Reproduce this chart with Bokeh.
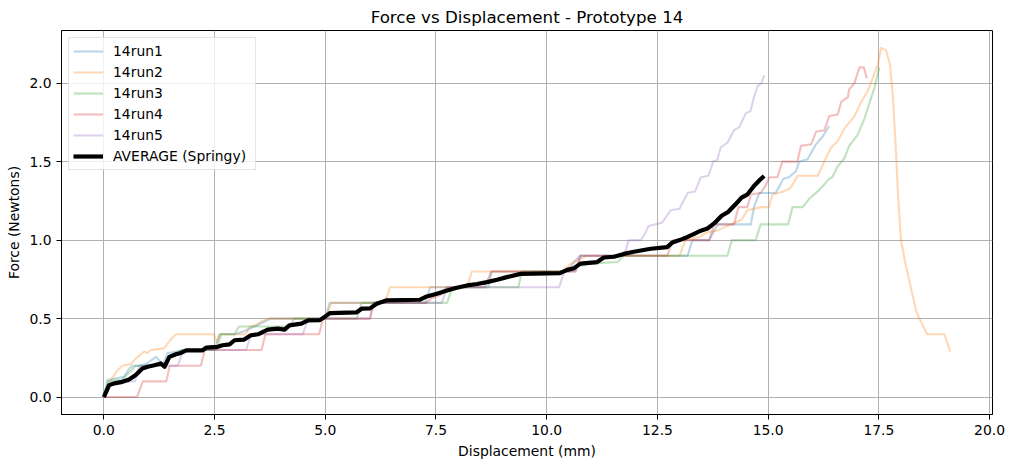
from bokeh.plotting import figure
from bokeh.models import Range1d, NumeralTickFormatter
from bokeh.embed import file_html
from bokeh.resources import INLINE

# ---- data (x: displacement mm, y: force N) ----
RUN1 = [(0, 0), (0.08, 0.108), (0.46, 0.13), (0.57, 0.18), (0.65, 0.2), (0.8, 0.2), (0.95, 0.21),
        (1.18, 0.256), (1.25, 0.235), (1.33, 0.2), (1.44, 0.28), (1.67, 0.29), (1.82, 0.3), (2.5, 0.3),
        (2.61, 0.4), (2.95, 0.4), (3.17, 0.42), (3.4, 0.45), (3.7, 0.49), (3.78, 0.5), (5.0, 0.5),
        (5.1, 0.6), (7.26, 0.6), (7.37, 0.7), (8.68, 0.7), (8.76, 0.8), (10.5, 0.8), (10.61, 0.86),
        (10.76, 0.9), (13.18, 0.9), (13.29, 1.0), (13.67, 1.0), (13.86, 1.1), (14.5, 1.1), (14.61, 1.1),
        (14.68, 1.21), (14.8, 1.3), (15.17, 1.3), (15.27, 1.35), (15.34, 1.39), (15.47, 1.40),
        (15.63, 1.44), (15.7, 1.5), (15.89, 1.515), (16.08, 1.61), (16.23, 1.66), (16.38, 1.727)]

RUN2 = [(0, 0), (0.16, 0.11), (0.31, 0.17), (0.42, 0.2), (0.61, 0.21), (0.72, 0.245), (0.91, 0.29),
        (0.98, 0.28), (1.06, 0.30), (1.36, 0.31), (1.44, 0.34), (1.52, 0.37), (1.63, 0.40), (2.48, 0.40),
        (2.55, 0.35), (2.62, 0.40), (3.2, 0.40), (3.3, 0.45), (3.45, 0.46), (3.55, 0.48), (3.7, 0.5),
        (5.0, 0.5), (5.14, 0.6), (6.35, 0.6), (6.46, 0.7), (8.2, 0.7), (8.31, 0.8), (10.35, 0.8),
        (10.55, 0.85), (10.9, 0.9), (13.0, 0.9), (13.13, 1.0), (13.45, 1.02), (13.63, 1.05),
        (13.85, 1.06), (14.16, 1.1), (14.4, 1.13), (14.53, 1.19), (14.84, 1.21), (15.02, 1.21),
        (15.1, 1.29), (15.34, 1.31), (15.5, 1.33), (15.67, 1.41), (16.12, 1.41), (16.27, 1.5),
        (16.42, 1.59), (16.57, 1.63), (16.72, 1.71), (16.95, 1.79), (17.1, 1.88), (17.25, 1.95),
        (17.4, 2.06), (17.48, 2.12), (17.55, 2.224), (17.66, 2.21), (17.75, 2.12), (17.82, 1.9),
        (17.88, 1.6), (17.93, 1.3), (18.0, 1.0), (18.1, 0.85), (18.19, 0.74), (18.34, 0.55),
        (18.45, 0.48), (18.59, 0.40), (18.98, 0.40), (19.11, 0.29)]

RUN3 = [(0, 0), (0.1, 0.1), (0.4, 0.11), (0.55, 0.15), (0.72, 0.2), (1.4, 0.2), (1.5, 0.26),
        (1.6, 0.28), (1.75, 0.3), (2.55, 0.3), (2.65, 0.4), (2.95, 0.4), (3.05, 0.45), (4.2, 0.45),
        (4.3, 0.5), (5.71, 0.5), (5.82, 0.6), (7.75, 0.6), (7.87, 0.7), (9.36, 0.7), (9.44, 0.8),
        (10.5, 0.8), (10.65, 0.83), (11.0, 0.85), (11.6, 0.86), (11.74, 0.9), (14.08, 0.9),
        (14.18, 1.0), (14.72, 1.0), (14.83, 1.1), (15.45, 1.1), (15.55, 1.21), (15.78, 1.21),
        (15.95, 1.27), (16.12, 1.31), (16.38, 1.39), (16.45, 1.40), (16.57, 1.47), (16.72, 1.52),
        (16.83, 1.60), (17.02, 1.67), (17.17, 1.77), (17.4, 1.97), (17.51, 2.1)]

RUN4 = [(0, 0), (0.75, 0), (0.88, 0.1), (1.41, 0.1), (1.49, 0.2), (2.19, 0.2), (2.28, 0.3),
        (3.56, 0.3), (3.65, 0.4), (4.86, 0.4), (4.95, 0.5), (6.01, 0.5), (6.1, 0.6), (7.28, 0.6),
        (7.4, 0.63), (7.6, 0.65), (7.75, 0.7), (8.6, 0.7), (8.75, 0.8), (10.65, 0.8), (10.76, 0.9),
        (12.72, 0.9), (12.85, 1.0), (13.67, 1.0), (13.78, 1.1), (14.23, 1.1), (14.33, 1.21),
        (14.53, 1.21), (14.61, 1.29), (14.83, 1.30), (14.95, 1.35), (15.02, 1.40), (15.21, 1.40),
        (15.32, 1.5), (15.66, 1.5), (15.74, 1.6), (15.97, 1.61), (16.08, 1.69), (16.27, 1.70),
        (16.38, 1.79), (16.57, 1.8), (16.65, 1.88), (16.8, 1.91), (16.83, 1.96), (16.95, 2.0),
        (17.06, 2.1), (17.16, 2.1), (17.23, 2.03)]

RUN5 = [(0, 0), (0.1, 0.08), (0.6, 0.1), (0.7, 0.1), (0.8, 0.2), (1.67, 0.2), (1.8, 0.3),
        (3.21, 0.3), (3.33, 0.4), (4.49, 0.4), (4.62, 0.5), (6.01, 0.5), (6.08, 0.6), (7.63, 0.6),
        (7.75, 0.7), (10.28, 0.7), (10.4, 0.8), (10.65, 0.8), (10.76, 0.9), (11.75, 0.9), (11.85, 1.0),
        (12.12, 1.0), (12.2, 1.03), (12.3, 1.09), (12.6, 1.11), (12.8, 1.19), (13.0, 1.2),
        (13.18, 1.3), (13.35, 1.31), (13.48, 1.4), (13.65, 1.41), (13.76, 1.5), (13.85, 1.51),
        (13.93, 1.59), (14.08, 1.62), (14.23, 1.7), (14.35, 1.72), (14.5, 1.81), (14.6, 1.82),
        (14.68, 1.91), (14.76, 1.98), (14.85, 2.0), (14.91, 2.05)]

AVERAGE = [(0, 0), (0.12, 0.076), (0.23, 0.087), (0.42, 0.097), (0.57, 0.112), (0.72, 0.14),
           (0.87, 0.182), (0.99, 0.193), (1.14, 0.203), (1.29, 0.214), (1.37, 0.193), (1.48, 0.256),
           (1.63, 0.273), (1.74, 0.281), (1.86, 0.298), (2.23, 0.298), (2.31, 0.315), (2.57, 0.32),
           (2.68, 0.33), (2.84, 0.336), (2.95, 0.362), (3.17, 0.366), (3.32, 0.394), (3.48, 0.40),
           (3.7, 0.43), (3.93, 0.436), (4.08, 0.43), (4.19, 0.457), (4.46, 0.468), (4.61, 0.489),
           (4.88, 0.49), (5.11, 0.535), (5.71, 0.54), (5.82, 0.563), (6.01, 0.565), (6.16, 0.595),
           (6.39, 0.616), (7.14, 0.62), (7.29, 0.641), (7.52, 0.658), (7.75, 0.679), (7.97, 0.696),
           (8.2, 0.711), (8.43, 0.72), (8.65, 0.732), (8.88, 0.747), (9.1, 0.764), (9.41, 0.785),
           (10.3, 0.79), (10.46, 0.81), (10.61, 0.82), (10.76, 0.85), (11.14, 0.86), (11.29, 0.889),
           (11.52, 0.894), (11.74, 0.912), (11.97, 0.926), (12.35, 0.945), (12.72, 0.955),
           (12.84, 0.985), (13.0, 1.0), (13.18, 1.02), (13.33, 1.04), (13.48, 1.06), (13.63, 1.074),
           (13.78, 1.106), (13.95, 1.155), (14.1, 1.18), (14.27, 1.23), (14.4, 1.27), (14.53, 1.29),
           (14.68, 1.345), (14.8, 1.38), (14.91, 1.408)]

RUN_NAMES = ["14run1", "14run2", "14run3", "14run4", "14run5"]
AVG_NAME = "AVERAGE (Springy)"
X_TICKS = [0, 2.5, 5, 7.5, 10, 12.5, 15, 17.5, 20]
Y_TICKS = [0, 0.5, 1.0, 1.5, 2.0]

COLORS = ["#1f77b4", "#ff7f0e", "#2ca02c", "#d62728", "#9467bd"]
FONT = "DejaVu Sans"

p = figure(width=1015, height=468, output_backend="svg", toolbar_location=None,
           x_range=Range1d(-0.956, 20.066), y_range=Range1d(-0.111, 2.335),
           min_border_left=61, min_border_right=23, min_border_top=30, min_border_bottom=54,
           title="Force vs Displacement - Prototype 14")
p.background_fill_color = "white"
p.border_fill_color = "white"
p.outline_line_color = "black"
p.outline_line_width = 1

p.title.align = "center"
p.title.text_font = FONT
p.title.text_font_size = "16.7px"
p.title.text_font_style = "normal"
p.title.text_color = "black"
p.title.standoff = 7

for run, name, col in zip([RUN1, RUN2, RUN3, RUN4, RUN5], RUN_NAMES, COLORS):
    xs = [a for a, b in run]
    ys = [b for a, b in run]
    p.line(xs, ys, line_color=col, line_alpha=0.3, line_width=2.1, legend_label=name,
           line_join="round")

p.line([a for a, b in AVERAGE], [b for a, b in AVERAGE], line_color="black", line_width=4.2,
       legend_label=AVG_NAME, line_join="round")

for ax in (p.xaxis, p.yaxis):
    ax.axis_line_color = "black"
    ax.axis_line_width = 1
    ax.major_tick_line_color = "black"
    ax.major_tick_line_width = 1
    ax.major_tick_out = 5
    ax.major_tick_in = 0
    ax.minor_tick_line_color = None
    ax.major_label_text_font = FONT
    ax.major_label_text_font_size = "13.9px"
    ax.major_label_text_color = "black"
    ax.major_label_standoff = 5
    ax.axis_label_text_font = FONT
    ax.axis_label_text_font_size = "13.9px"
    ax.axis_label_text_font_style = "normal"
    ax.axis_label_text_color = "black"
    ax.formatter = NumeralTickFormatter(format="0.0")

p.xaxis.ticker = X_TICKS
p.yaxis.ticker = Y_TICKS
p.xaxis.axis_label = "Displacement (mm)"
p.yaxis.axis_label = "Force (Newtons)"
p.xaxis.axis_label_standoff = 5
p.yaxis.axis_label_standoff = 4

p.grid.grid_line_color = "#b0b0b0"
p.grid.grid_line_width = 1

lg = p.legend[0]
lg.location = "top_left"
lg.margin = 7
lg.padding = 4
lg.spacing = 3
lg.glyph_width = 30
lg.glyph_height = 18
lg.label_height = 18
lg.label_width = 138
lg.label_standoff = 10
lg.label_text_font = FONT
lg.label_text_font_size = "13.9px"
lg.label_text_color = "black"
lg.border_line_color = "#cccccc"
lg.border_line_width = 1
lg.background_fill_color = "white"
lg.background_fill_alpha = 0.8

open("out.html", "w").write(file_html(p, INLINE))
